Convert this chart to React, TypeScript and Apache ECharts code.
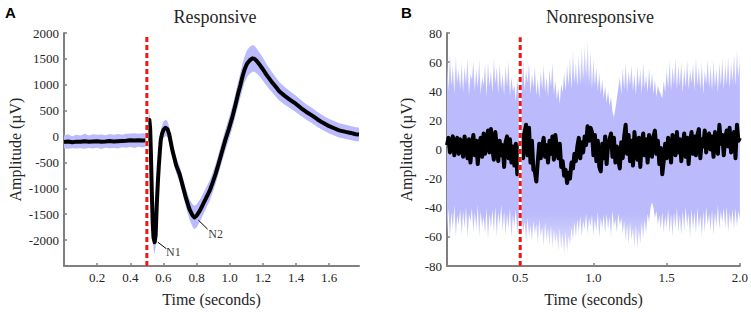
import React, { useEffect, useRef } from "react";
import * as echarts from "echarts";

// ---------- Panel A (Responsive) ----------
const TIME_A = [
  0, 0.025, 0.05, 0.075, 0.1, 0.125, 0.15, 0.175, 0.2, 0.225, 0.25, 0.275, 0.3, 0.325, 0.35, 0.375, 0.4, 0.425, 0.45, 0.475, 0.495,
  0.505, 0.51, 0.515, 0.52, 0.525, 0.53, 0.535, 0.54, 0.547, 0.553, 0.56, 0.566, 0.572, 0.578, 0.584, 0.592, 0.6, 0.613, 0.625,
  0.635, 0.645, 0.655, 0.667, 0.677, 0.697, 0.717, 0.737, 0.757, 0.775, 0.787, 0.8, 0.82, 0.84, 0.86, 0.88, 0.897, 0.915, 0.935,
  0.957, 0.975, 0.995, 1.017, 1.035, 1.05, 1.065, 1.077, 1.09, 1.105, 1.12, 1.137, 1.15, 1.165, 1.18, 1.2, 1.22, 1.25, 1.28, 1.3,
  1.33, 1.36, 1.4, 1.43, 1.46, 1.5, 1.53, 1.56, 1.6, 1.63, 1.66, 1.7, 1.73, 1.76, 1.78,
];
const MEAN_A = [
  -105, -95, -110, -98, -102, -90, -100, -95, -92, -100, -96, -88, -94, -90, -85, -80, -70, -78, -72, -75, -70,
  -60, 250, 320, 150, -400, -1100, -1650, -1950, -2040, -1900, -1300, -900, -570, -300, -60, 60, 130, 170, 140,
  40, -120, -280, -430, -560, -720, -960, -1200, -1400, -1520, -1563, -1530, -1430, -1300, -1170, -1040, -890, -720, -500,
  -250, -50, 150, 390, 620, 820, 1000, 1160, 1300, 1410, 1470, 1510, 1500, 1450, 1390, 1300, 1200, 1070, 950, 870,
  790, 720, 630, 550, 480, 400, 330, 270, 200, 160, 120, 90, 70, 45, 40,
];
const SD_A = [
  125, 140, 118, 135, 122, 145, 120, 138, 126, 142, 119, 136, 128, 140, 121, 134, 130, 143, 124, 137, 130,
  140, 160, 170, 170, 180, 190, 200, 220, 230, 220, 200, 190, 180, 170, 165, 160, 160, 160, 150,
  145, 140, 140, 145, 150, 160, 170, 180, 200, 215, 225, 225, 215, 205, 200, 195, 190, 190, 195,
  200, 205, 210, 215, 220, 230, 240, 250, 255, 260, 262, 260, 250, 240, 230, 220, 210, 195, 185, 178,
  170, 165, 160, 155, 150, 148, 145, 142, 140, 140, 138, 136, 135, 135, 135,
];
const N_LABELS = ["N1", "N2"];
const N_LABEL_POS = [
  [0.66, -2230],
  [0.915, -1885],
];
const N_POINTERS = [
  [
    [0.566, -2040],
    [0.617, -2165],
  ],
  [
    [0.811, -1615],
    [0.867, -1790],
  ],
];

// ---------- Panel B (Nonresponsive) ----------
const T_STEP_B = 0.01;
const MEAN_B = [
  3, 8, -2, 6, 9, -4, 5, 8, -3, 7,
  4, -5, 9, 2, -6, 7, -9, 3, 10, -4,
  6, -10, 4, 8, -5, 11, -3, 6, 13, -2,
  14, 0, -7, 12, 2, -8, 6, -4, 3, -12,
  5, 9, -6, 7, -9, 2, -11, 4, -17, -5,
  3, 10, -6, 12, 17, -4, 15, -9, 6, -14,
  -15, -22, -8, 4, -6, 2, 8, -5, 3, -9,
  6, -3, 9, -7, 10, 1, -6, 4, -12, -8,
  -18, -14, -23, -16, -20, -9, -13, -3, -8, 2,
  8, -6, 5, -2, 9, 3, 16, 6, 15, 12,
  -4, 10, -8, 6, -12, -15, 4, -6, 9, -10,
  3, 7, 11, -5, 8, -9, 2, -7, -13, 5,
  -6, 9, 17, -3, 10, -8, 6, -11, 12, 0,
  -7, 8, -12, 5, 11, -4, 7, -9, 10, 2,
  -5, 9, 13, -3, 6, -10, 1, -17, -8, 4,
  -6, 8, 2, -9, 10, 5, -4, 12, -2, 7,
  -8, 3, 11, -5, 8, -10, 6, 12, -3, 9,
  -4, 10, 14, -6, 7, 2, 13, -2, 8, 11,
  0, 9, -5, 12, 6, -3, 17, 4, 10, -4,
  8, 13, 2, 15, -2, 9, 12, -6, 17, 6,
  8,
];
const HI_B = [
  62, 40, 66, 44, 58, 38, 64, 46, 55, 41,
  60, 39, 57, 45, 63, 37, 52, 48, 61, 40,
  56, 42, 62, 38, 50, 44, 59, 36, 61, 43,
  54, 39, 63, 45, 57, 38, 60, 41, 52, 37,
  58, 43, 61, 36, 50, 40, 44, 33, 48, 38,
  58, 44, 63, 40, 55, 46, 60, 38, 52, 42,
  57, 37, 48, 35, 54, 41, 58, 39, 50, 36,
  55, 43, 60, 38, 47, 34, 42, 31, 45, 39,
  53, 40, 58, 44, 63, 41, 68, 46, 60, 43,
  66, 45, 70, 48, 72, 50, 75, 46, 68, 42,
  62, 44, 57, 40, 53, 38, 48, 35, 44, 32,
  40, 30, 36, 26, 22, 28, 35, 42, 50, 38,
  56, 41, 60, 39, 54, 44, 58, 40, 52, 37,
  57, 43, 55, 38, 60, 42, 51, 39, 56, 41,
  53, 38, 48, 36, 44, 40, 38, 35, 47, 39,
  55, 42, 61, 40, 57, 45, 63, 41, 58, 44,
  60, 39, 56, 43, 62, 41, 55, 46, 59, 40,
  63, 44, 57, 41, 60, 38, 54, 45, 62, 42,
  58, 40, 61, 43, 56, 39, 60, 44, 63, 41,
  59, 45, 64, 42, 60, 47, 66, 44, 68, 50,
  62,
];
const LO_B = [
  -58, -40, -62, -43, -55, -38, -60, -45, -52, -41,
  -59, -42, -54, -39, -61, -44, -50, -40, -57, -43,
  -55, -38, -60, -42, -53, -46, -58, -40, -62, -44,
  -54, -41, -57, -39, -60, -43, -52, -38, -56, -42,
  -59, -44, -55, -40, -61, -45, -53, -41, -58, -46,
  -62, -48, -57, -50, -64, -47, -60, -52, -63, -49,
  -58, -51, -65, -48, -60, -53, -67, -50, -63, -54,
  -66, -52, -68, -55, -64, -57, -70, -54, -69, -58,
  -73, -56, -71, -59, -66, -53, -62, -50, -60, -48,
  -57, -46, -60, -49, -55, -44, -58, -47, -53, -45,
  -59, -48, -56, -43, -61, -47, -54, -45, -58, -44,
  -55, -46, -60, -42, -53, -48, -57, -44, -52, -47,
  -58, -49, -63, -51, -66, -50, -62, -54, -67, -52,
  -69, -55, -65, -50, -61, -48, -58, -44, -50, -40,
  -36, -40, -47, -42, -52, -45, -55, -43, -57, -46,
  -54, -41, -58, -44, -60, -43, -55, -40, -57, -45,
  -59, -42, -56, -39, -53, -44, -61, -41, -55, -43,
  -58, -40, -54, -45, -60, -42, -57, -39, -52, -44,
  -56, -41, -59, -43, -53, -38, -55, -42, -50, -40,
  -54, -39, -57, -43, -52, -41, -55, -40, -53, -42,
  -48,
];

const STIM_TIME = 0.5;

// ---------- styles ----------
const SERIF = "Liberation Serif";
const SANS = "Liberation Sans";
const TEXT = "#262626";
const AXIS = "#808080";
const BAND = "#babafc";
const BAND_FADE = "#e4e4fe";
const RED = "#ee1515";

function bandSeries(t: number[], lo: number[], hi: number[], idx: number, fill: any) {
  const rows = t.map((x, i) => [x, lo[i], hi[i]]);
  return {
    type: "custom",
    xAxisIndex: idx,
    yAxisIndex: idx,
    data: rows,
    encode: { x: 0, y: [1, 2] },
    silent: true,
    z: 1,
    renderItem: (params: any, api: any) => {
      if (params.dataIndex !== 0) return null;
      const top = rows.map((r) => api.coord([r[0], r[2]]));
      const bottom = rows
        .slice()
        .reverse()
        .map((r) => api.coord([r[0], r[1]]));
      return {
        type: "polygon",
        shape: { points: top.concat(bottom) },
        style: { fill },
      };
    },
  };
}

function lineSeries(data: number[][], idx: number, style: any, z: number) {
  return {
    type: "line",
    xAxisIndex: idx,
    yAxisIndex: idx,
    data,
    showSymbol: false,
    symbol: "none",
    silent: true,
    z,
    lineStyle: style,
  };
}

function xAxis(idx: number, max: number, interval: number, showMax: boolean) {
  return {
    type: "value",
    gridIndex: idx,
    min: 0,
    max,
    interval,
    name: "Time (seconds)",
    nameLocation: "middle",
    nameGap: 25,
    nameTextStyle: { fontFamily: SERIF, fontSize: 16, color: TEXT },
    axisLine: { show: true, onZero: false, lineStyle: { color: AXIS, width: 2 } },
    axisTick: { show: true, inside: true, length: 3, lineStyle: { color: AXIS, width: 1.5 } },
    axisLabel: {
      interval: 0,
      showMinLabel: false,
      showMaxLabel: showMax,
      hideOverlap: false,
      margin: 5,
      fontFamily: SERIF,
      fontSize: 13,
      color: TEXT,
      formatter: (v: number) => v.toFixed(1),
    },
    splitLine: { show: false },
  };
}

function yAxis(idx: number, min: number, max: number, interval: number, showMin: boolean, gap: number) {
  return {
    type: "value",
    gridIndex: idx,
    min,
    max,
    interval,
    name: "Amplitude (\u00B5V)",
    nameLocation: "middle",
    nameGap: gap,
    nameTextStyle: { fontFamily: SERIF, fontSize: 16, color: TEXT },
    axisLine: { show: true, onZero: false, lineStyle: { color: AXIS, width: 2 } },
    axisTick: { show: true, inside: true, length: 3, lineStyle: { color: AXIS, width: 1.5 } },
    axisLabel: {
      interval: 0,
      showMinLabel: showMin,
      margin: 5,
      fontFamily: SERIF,
      fontSize: 13,
      color: TEXT,
      formatter: (v: number) => String(v),
    },
    splitLine: { show: false },
  };
}

export default function App() {
  const ref = useRef<HTMLDivElement>(null);

  useEffect(() => {
    if (!ref.current) return;
    const chart = echarts.init(ref.current, null, { renderer: "svg" });

    const meanA = TIME_A.map((t, i) => [t, MEAN_A[i]]);
    const loA = MEAN_A.map((m, i) => m - SD_A[i]);
    const hiA = MEAN_A.map((m, i) => m + SD_A[i]);
    const timeB = MEAN_B.map((_, i) => +(i * T_STEP_B).toFixed(2));
    const meanB = timeB.map((t, i) => [t, MEAN_B[i]]);

    const fadeB = {
      type: "linear",
      x: 0,
      y: 0,
      x2: 0,
      y2: 1,
      colorStops: [
        { offset: 0, color: BAND_FADE },
        { offset: 0.22, color: BAND },
        { offset: 0.8, color: BAND },
        { offset: 1, color: BAND_FADE },
      ],
    };

    const stimA = [
      [STIM_TIME, -2500],
      [STIM_TIME, 1930],
    ];
    const stimB = [
      [STIM_TIME, -80],
      [STIM_TIME, 77],
    ];

    const series: any[] = [
      bandSeries(TIME_A, loA, hiA, 0, BAND),
      lineSeries(meanA, 0, { color: "#000", width: 4, join: "round" }, 2),
      lineSeries(stimA, 0, { color: "#fff", width: 3 }, 3),
      lineSeries(stimA, 0, { color: RED, width: 3, type: [5, 3] }, 4),
      bandSeries(timeB, LO_B, HI_B, 1, fadeB),
      lineSeries(meanB, 1, { color: "#000", width: 4, join: "round" }, 2),
      lineSeries(stimB, 1, { color: "#fff", width: 3 }, 3),
      lineSeries(stimB, 1, { color: RED, width: 3, type: [5, 3] }, 4),
    ];
    N_POINTERS.forEach((p) => series.push(lineSeries(p, 0, { color: "#000", width: 1 }, 5)));
    series.push({
      type: "scatter",
      xAxisIndex: 0,
      yAxisIndex: 0,
      data: N_LABEL_POS,
      symbolSize: 1,
      itemStyle: { color: "rgba(0,0,0,0)" },
      silent: true,
      z: 6,
      label: {
        show: true,
        position: "inside",
        fontFamily: SERIF,
        fontSize: 12,
        color: "#000",
        formatter: (p: any) => N_LABELS[p.dataIndex],
      },
    });

    chart.setOption({
      animation: false,
      backgroundColor: "#fff",
      title: [
        { text: "Responsive", left: 215, top: 8, textAlign: "center", padding: 0, textStyle: { fontFamily: SERIF, fontSize: 18, fontWeight: "normal", color: TEXT } },
        { text: "Nonresponsive", left: 600, top: 8, textAlign: "center", padding: 0, textStyle: { fontFamily: SERIF, fontSize: 18, fontWeight: "normal", color: TEXT } },
        { text: "A", left: 5, top: 5, padding: 0, textStyle: { fontFamily: SANS, fontSize: 15, fontWeight: "bold", color: "#000" } },
        { text: "B", left: 401, top: 5, padding: 0, textStyle: { fontFamily: SANS, fontSize: 15, fontWeight: "bold", color: "#000" } },
      ],
      grid: [
        { left: 64, top: 33, width: 295, height: 233 },
        { left: 447, top: 33, width: 295, height: 233 },
      ],
      xAxis: [xAxis(0, 1.78, 0.2, false), xAxis(1, 2.0, 0.5, true)],
      yAxis: [yAxis(0, -2500, 2000, 500, false, 41), yAxis(1, -80, 80, 20, true, 33)],
      series,
    });

    return () => chart.dispose();
  }, []);

  return (
    <div
      ref={ref}
      style={{ position: "fixed", left: 0, top: 0, width: 751, height: 312, background: "#fff" }}
    />
  );
}
